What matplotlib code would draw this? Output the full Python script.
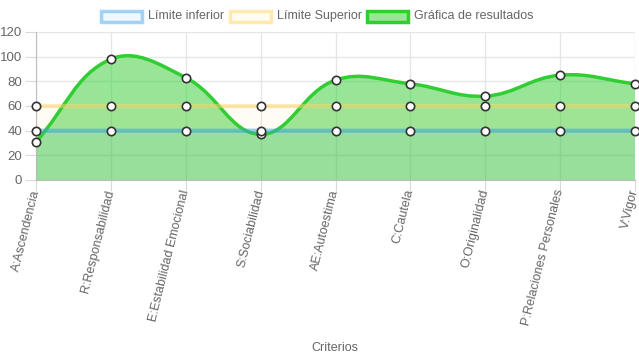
import numpy as np
import matplotlib.pyplot as plt
from matplotlib.path import Path
from matplotlib.patches import PathPatch, Rectangle

plt.rcParams['font.family'] = ['Liberation Sans', 'DejaVu Sans']

criterios = ['A:Ascendencia', 'R:Responsabilidad', 'E:Estabilidad Emocional',
             'S:Sociabilidad', 'AE:Autoestima', 'C:Cautela', 'O:Originalidad',
             'P:Relaciones Personales', 'V:Vigor']
limite_inferior = [40, 40, 40, 40, 40, 40, 40, 40, 40]
limite_superior = [60, 60, 60, 60, 60, 60, 60, 60, 60]
resultados = [31, 98, 83, 37, 81, 78, 68, 85, 78]

# px per unit, so the spline tension behaves like in pixel space
SX, SY = 75.0, 1.233


def spline_path(xs, ys, tension=0.4):
    xs = np.asarray(xs, float)
    ys = np.asarray(ys, float)
    n = len(xs)
    cp_prev = []
    cp_next = []
    for i in range(n):
        p0 = (xs[max(i - 1, 0)], ys[max(i - 1, 0)])
        p1 = (xs[i], ys[i])
        p2 = (xs[min(i + 1, n - 1)], ys[min(i + 1, n - 1)])
        d01 = np.hypot((p1[0] - p0[0]) * SX, (p1[1] - p0[1]) * SY)
        d12 = np.hypot((p2[0] - p1[0]) * SX, (p2[1] - p1[1]) * SY)
        s = d01 + d12
        fa = tension * d01 / s if s else 0
        fb = tension * d12 / s if s else 0
        dx, dy = p2[0] - p0[0], p2[1] - p0[1]
        cp_prev.append((p1[0] - fa * dx, p1[1] - fa * dy))
        cp_next.append((p1[0] + fb * dx, p1[1] + fb * dy))
    verts = [(xs[0], ys[0])]
    codes = [Path.MOVETO]
    for i in range(1, n):
        verts += [cp_next[i - 1], cp_prev[i], (xs[i], ys[i])]
        codes += [Path.CURVE4] * 3
    return verts, codes


GREEN = (50/255, 205/255, 50/255)
YELLOW = (255/255, 215/255, 100/255)
BLUE = (54/255, 162/255, 235/255)

fig = plt.figure(figsize=(6.39, 3.6), dpi=100)
ax = fig.add_axes([36 / 639, 1 - 180 / 360, 599 / 639, 148 / 360])

x = np.arange(len(criterios))
series = [
    (resultados, GREEN + (1.0,), GREEN + (0.5,), 2.5),
    (limite_superior, YELLOW + (0.5,), YELLOW + (0.07,), 3),
    (limite_inferior, BLUE + (0.5,), BLUE + (0.07,), 3),
]
for z, (vals, lc, fc, lw) in enumerate(series):
    verts, codes = spline_path(x, vals)
    fill_verts = verts + [(x[-1], 0), (x[0], 0), verts[0]]
    fill_codes = codes + [Path.LINETO, Path.LINETO, Path.CLOSEPOLY]
    ax.add_patch(PathPatch(Path(fill_verts, fill_codes), facecolor=fc,
                           edgecolor='none', zorder=2 + z))
    ax.add_patch(PathPatch(Path(verts, codes), facecolor='none', edgecolor=lc,
                           lw=lw, zorder=5 + z, capstyle='round'))
    ax.plot(x, vals, 'o', ms=6, mfc='white', mec='#333333', mew=1.2,
            zorder=10 + z, clip_on=False)

ax.set_xlim(0, len(criterios) - 1)
ax.set_ylim(0, 120)
ax.set_yticks(range(0, 121, 20))
ax.set_xticks(x)
ax.set_xticklabels(criterios, rotation=76, ha='right', va='center',
                   rotation_mode='anchor', fontsize=9, color='#666666')
ax.tick_params(axis='x', length=8, color='#d9d9d9', pad=-1)
ax.tick_params(axis='y', length=8, color='#d9d9d9', labelsize=9.5,
               labelcolor='#666666', pad=2)
ax.grid(True, color='#e6e6e6', lw=1, zorder=0)
ax.set_axisbelow(True)
for side in ['top', 'right']:
    ax.spines[side].set_visible(False)
ax.spines['left'].set_color('#bdbdbd')
ax.spines['bottom'].set_color('#bdbdbd')

fig.text(335 / 639, 1 - 348 / 360, 'Criterios', ha='center', va='center',
         fontsize=9, color='#666666')

# legend, Chart.js style
legend = [
    ('Límite inferior', 101, BLUE + (0.45,), BLUE + (0.07,)),
    ('Límite Superior', 230, YELLOW + (0.5,), YELLOW + (0.07,)),
    ('Gráfica de resultados', 367, GREEN + (1.0,), GREEN + (0.5,)),
]
for label, bx, ec, fc in legend:
    fig.patches.append(Rectangle((bx / 639, 1 - 21.5 / 360), 41 / 639, 11 / 360,
                                 transform=fig.transFigure, facecolor=fc,
                                 edgecolor=ec, lw=2.5))
    fig.text((bx + 47) / 639, 1 - 16 / 360, label, ha='left', va='center',
             fontsize=9, color='#666666')

fig.savefig('out.png', dpi=100)
